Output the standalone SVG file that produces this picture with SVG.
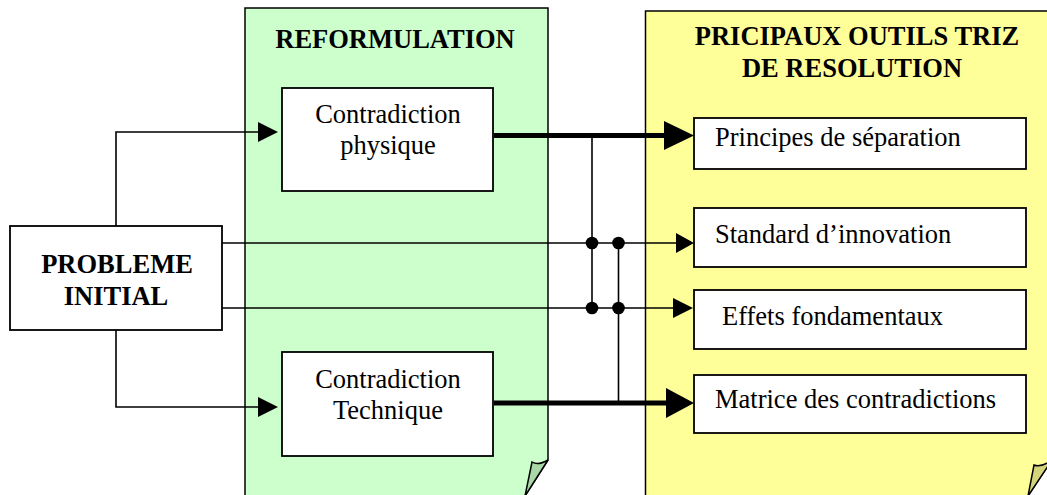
<svg xmlns="http://www.w3.org/2000/svg" width="1047" height="495" viewBox="0 0 1047 495">
  <style>
    .panel { stroke: #000; stroke-width: 1.5; }
    .box { fill: #fff; stroke: #000; stroke-width: 1.8; }
    .title { font-family: "Liberation Serif", "Times New Roman", serif; font-weight: bold; font-size: 26.5px; fill: #000; }
    .label { font-family: "Liberation Serif", "Times New Roman", serif; font-size: 26.5px; fill: #000; }
    .thin { fill: none; stroke: #000; stroke-width: 1.6; }
    .thick { fill: none; stroke: #000; stroke-width: 5; }
  </style>

  <rect width="1047" height="495" fill="#fff"/>

  <!-- Reformulation panel with folded corner -->
  <g id="panel-reformulation">
    <path class="panel" fill="#ccffcc" d="M245,505 L245,8 L548,8 L548,460 L525,496"/>
    <path class="panel" fill="#a8d8a8" d="M548,460 Q538,466 532,462 L525,496 Z"/>
    <text class="title" x="395" y="48" text-anchor="middle">REFORMULATION</text>
  </g>

  <!-- TRIZ tools panel with folded corner -->
  <g id="panel-outils">
    <path class="panel" fill="#ffff99" d="M645.5,505 L645.5,11 L1052,11 L1052,460 L1028,496"/>
    <path class="panel" fill="#d4d47a" d="M1052,460 Q1041,468 1034,465 L1028,496 Z"/>
    <text class="title" x="857" y="45" text-anchor="middle">PRICIPAUX OUTILS TRIZ</text>
    <text class="title" x="852" y="77" text-anchor="middle">DE RESOLUTION</text>
  </g>

  <!-- Connectors -->
  <g id="connectors">
    <!-- from initial problem to the two contradictions -->
    <path class="thin" d="M116,226 L116,132 L262,132"/>
    <polygon points="258,122 278,132 258,142"/>
    <path class="thin" d="M116,330 L116,407 L262,407"/>
    <polygon points="258,397 278,407 258,417"/>

    <!-- direct lines from initial problem to tools -->
    <path class="thin" d="M222,243 L680,243"/>
    <polygon points="676,233 694,243 676,253"/>
    <path class="thin" d="M222,308 L677,308"/>
    <polygon points="673,298 693,308 673,318"/>

    <!-- thick outputs of the contradictions -->
    <path class="thick" d="M494,135.5 L668,135.5"/>
    <polygon points="664,121 694,135.5 664,150"/>
    <path class="thick" d="M494,403 L670,403"/>
    <polygon points="666,388 694,403 666,418"/>

    <!-- vertical links and junctions -->
    <path class="thin" d="M592,135.5 L592,308"/>
    <path class="thin" d="M618.5,243 L618.5,403"/>
    <circle cx="592" cy="243" r="6.3"/>
    <circle cx="618.5" cy="243" r="6.3"/>
    <circle cx="592" cy="308" r="6.3"/>
    <circle cx="618.5" cy="308" r="6.3"/>
  </g>

  <g id="node-probleme">
    <rect class="box" x="10" y="226" width="212" height="104"/>
    <text class="title" x="117" y="273" text-anchor="middle">PROBLEME</text>
    <text class="title" x="116" y="305" text-anchor="middle">INITIAL</text>
  </g>

  <g id="node-physique">
    <rect class="box" x="282" y="88" width="211" height="103"/>
    <text class="label" x="388" y="123" text-anchor="middle">Contradiction</text>
    <text class="label" x="388" y="154" text-anchor="middle">physique</text>
  </g>

  <g id="node-technique">
    <rect class="box" x="282" y="352" width="211" height="104"/>
    <text class="label" x="388" y="388" text-anchor="middle">Contradiction</text>
    <text class="label" x="388" y="419" text-anchor="middle">Technique</text>
  </g>

  <g id="node-separation">
    <rect class="box" x="694" y="118" width="332" height="51"/>
    <text class="label" x="715" y="146">Principes de séparation</text>
  </g>

  <g id="node-standard">
    <rect class="box" x="694" y="208" width="332" height="59"/>
    <text class="label" x="715" y="243">Standard d’innovation</text>
  </g>

  <g id="node-effets">
    <rect class="box" x="694" y="290" width="332" height="59"/>
    <text class="label" x="722" y="325">Effets fondamentaux</text>
  </g>

  <g id="node-matrice">
    <rect class="box" x="694" y="375" width="332" height="58"/>
    <text class="label" x="715" y="408">Matrice des contradictions</text>
  </g>
</svg>
